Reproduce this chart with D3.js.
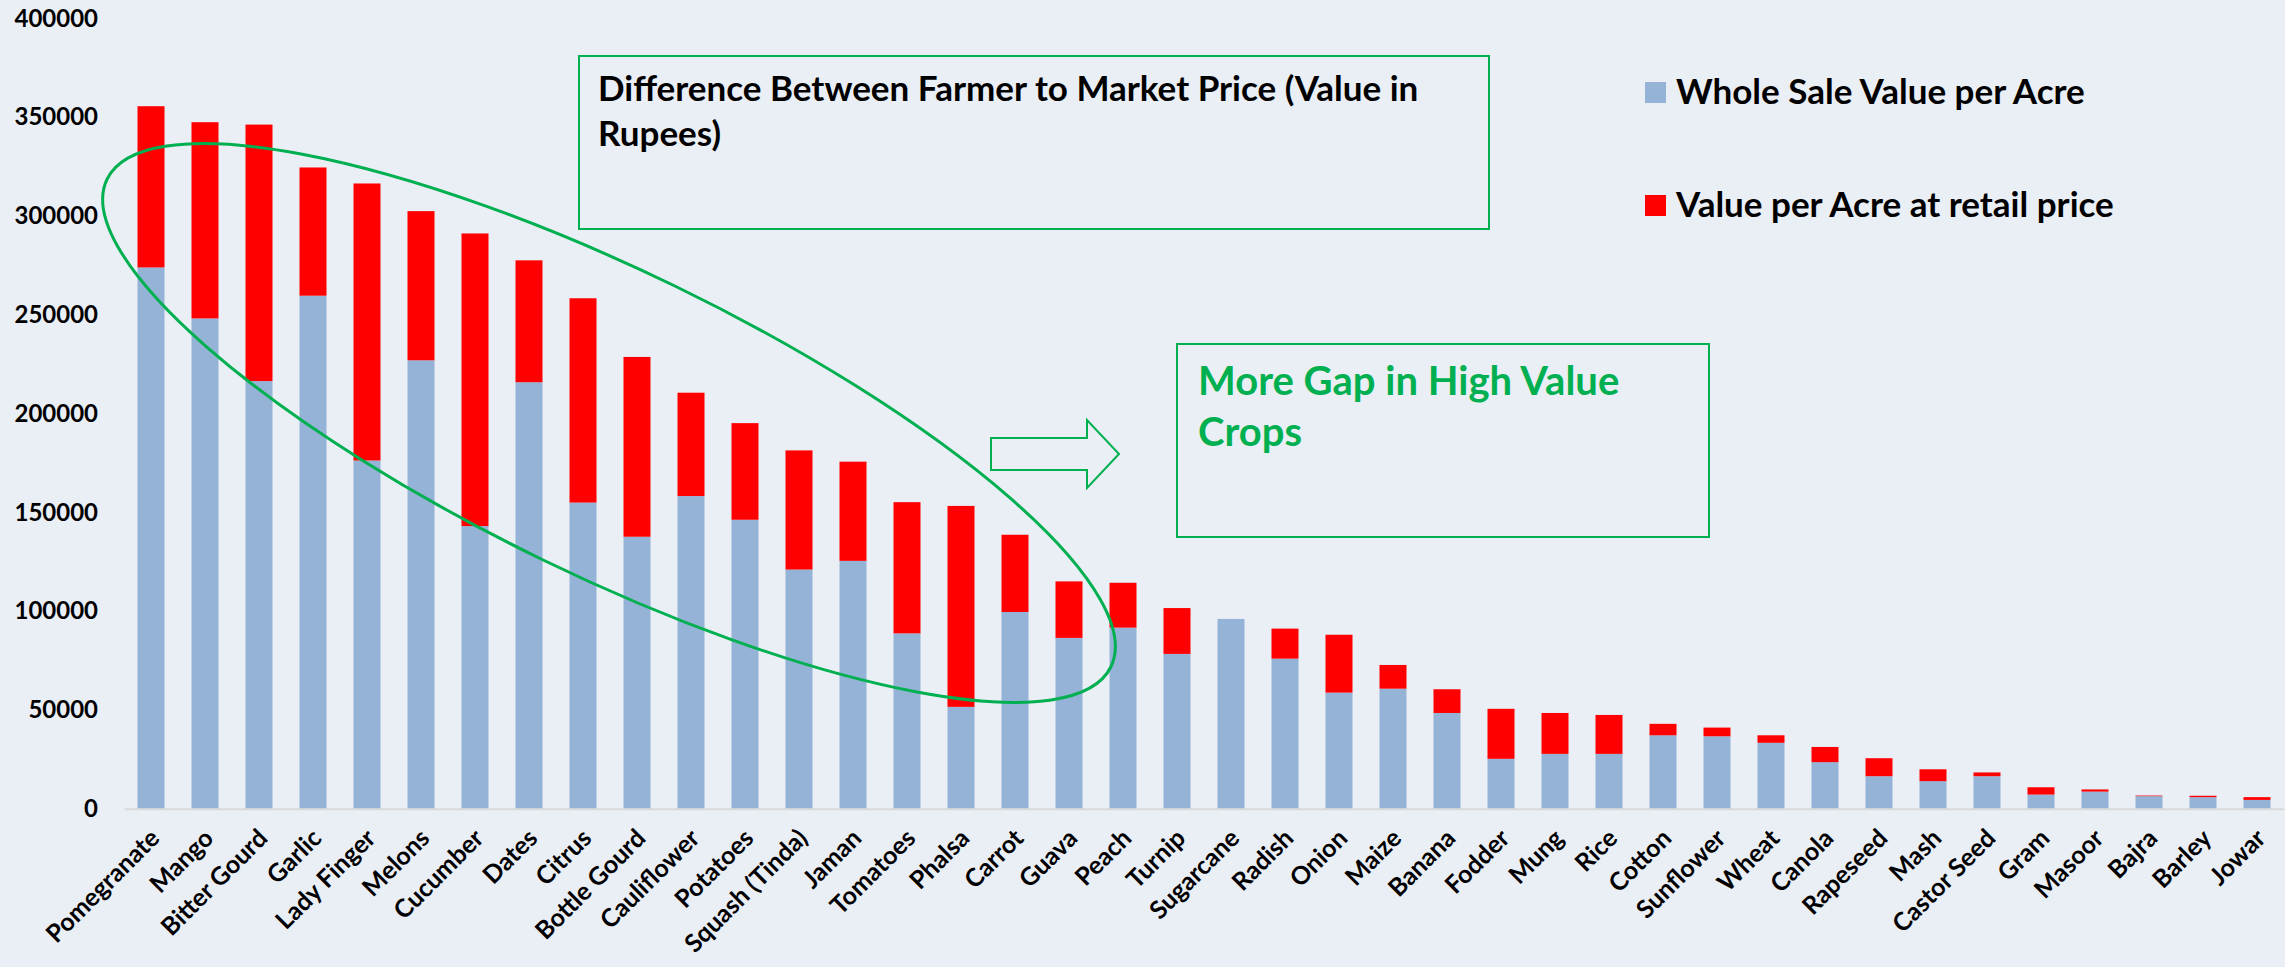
<!DOCTYPE html>
<html>
<head>
<meta charset="utf-8">
<script src="https://cdn.jsdelivr.net/npm/d3@7"></script>
<style>
  html, body { margin: 0; padding: 0; background: #EAEEF5; }
  svg { display: block; }
  text { font-family: Lato, "Open Sans", sans-serif; font-weight: 700; }
</style>
</head>
<body>
<svg id="chart" width="2285" height="967"></svg>
<script>
// Crops, ordered by retail value per acre
const categories = [
  "Pomegranate", "Mango", "Bitter Gourd", "Garlic", "Lady Finger", "Melons",
  "Cucumber", "Dates", "Citrus", "Bottle Gourd", "Cauliflower", "Potatoes",
  "Squash (Tinda)", "Jaman", "Tomatoes", "Phalsa", "Carrot", "Guava", "Peach",
  "Turnip", "Sugarcane", "Radish", "Onion", "Maize", "Banana", "Fodder", "Mung",
  "Rice", "Cotton", "Sunflower", "Wheat", "Canola", "Rapeseed", "Mash",
  "Castor Seed", "Gram", "Masoor", "Bajra", "Barley", "Jowar"
];

// Whole sale value per acre (Rs)
const wholesaleValues = [
  274000, 248200, 216500, 259700, 176300, 227000,
  143100, 215900, 155000, 137700, 158300, 146300,
  121100, 125500, 88800, 51600, 99600, 86500, 91700,
  78400, 96100, 76000, 58800, 60800, 48500, 25300, 27800,
  27800, 37200, 36700, 33400, 23600, 16500, 14000,
  16500, 7200, 8700, 6400, 5900, 4500
];

// Value per acre at retail price (Rs)
const retailValues = [
  355600, 347500, 346300, 324600, 316500, 302500,
  291200, 277600, 258400, 228700, 210600, 195200,
  181400, 175700, 155200, 153300, 138700, 115100, 114400,
  101600, 96100, 91200, 88100, 72800, 60500, 50600, 48500,
  47500, 43000, 41100, 37200, 31300, 25600, 20000,
  18400, 10900, 9800, 6700, 6600, 5900
];

const yTickValues = [0, 50000, 100000, 150000, 200000, 250000, 300000, 350000, 400000];

const seriesNames = ["Whole Sale Value per Acre", "Value per Acre at retail price"];
const seriesColors = ["#95B3D7", "#FF0000"];

const titleLines = ["Difference Between Farmer to Market Price (Value in", "Rupees)"];
const noteLines = ["More Gap in High Value", "Crops"];

const green = "#00B050";

const svg = d3.select("#chart");
svg.append("rect").attr("width", 2285).attr("height", 967).attr("fill", "#EAEEF5");

const x = d3.scaleBand()
  .domain(categories)
  .range([124, 2284])
  .paddingInner(0.5)
  .paddingOuter(0.25);

const y = d3.scaleLinear()
  .domain([0, 400000])
  .range([808.8, 18.5]);

// Whole sale part from zero, red part spans the gap up to the retail value
const bars = svg.append("g");
bars.selectAll("rect.wholesale")
  .data(categories)
  .join("rect")
  .attr("class", "wholesale")
  .attr("x", d => x(d))
  .attr("width", x.bandwidth())
  .attr("y", (d, i) => y(wholesaleValues[i]))
  .attr("height", (d, i) => y(0) - y(wholesaleValues[i]))
  .attr("fill", seriesColors[0]);

bars.selectAll("rect.retail")
  .data(categories)
  .join("rect")
  .attr("class", "retail")
  .attr("x", d => x(d))
  .attr("width", x.bandwidth())
  .attr("y", (d, i) => y(retailValues[i]))
  .attr("height", (d, i) => Math.max(0, y(wholesaleValues[i]) - y(retailValues[i])))
  .attr("fill", seriesColors[1]);

// Category axis
const xAxis = svg.append("g")
  .attr("transform", `translate(0,${y(0)})`)
  .call(d3.axisBottom(x).tickSize(0).tickPadding(0));
xAxis.select(".domain").attr("stroke", "#D9D9D9").attr("stroke-width", 2);
xAxis.selectAll(".tick text")
  .attr("fill", "#000")
  .attr("font-size", 25)
  .attr("font-family", "Lato, 'Open Sans', sans-serif")
  .attr("font-weight", 700)
  .attr("text-anchor", "end")
  .attr("dy", null)
  .attr("y", null)
  .attr("transform", "translate(10,31) rotate(-45)");

// Value axis
const yAxis = svg.append("g")
  .attr("transform", "translate(98,0)")
  .call(d3.axisLeft(y).tickValues(yTickValues).tickSize(0).tickPadding(0).tickFormat(d3.format("d")));
yAxis.select(".domain").remove();
yAxis.selectAll(".tick text")
  .attr("fill", "#000")
  .attr("font-size", 24)
  .attr("font-family", "Lato, 'Open Sans', sans-serif")
  .attr("font-weight", 700);

// Legend
const legend = svg.append("g");
seriesNames.forEach((name, i) => {
  const ly = 82 + i * 113;
  legend.append("rect")
    .attr("x", 1645).attr("y", ly).attr("width", 21).attr("height", 21)
    .attr("fill", seriesColors[i]);
  legend.append("text")
    .attr("x", 1676).attr("y", ly + 22)
    .attr("font-size", 35)
    .attr("fill", "#000")
    .text(name);
});

// Title box
svg.append("rect")
  .attr("x", 579).attr("y", 56).attr("width", 910).attr("height", 173)
  .attr("fill", "none").attr("stroke", green).attr("stroke-width", 2);
titleLines.forEach((t, i) => {
  svg.append("text")
    .attr("x", 598).attr("y", 101 + i * 45)
    .attr("font-size", 35)
    .attr("fill", "#000")
    .text(t);
});

// Note box
svg.append("rect")
  .attr("x", 1177).attr("y", 344).attr("width", 532).attr("height", 193)
  .attr("fill", "none").attr("stroke", green).attr("stroke-width", 2);
noteLines.forEach((t, i) => {
  svg.append("text")
    .attr("x", 1198).attr("y", 395 + i * 51)
    .attr("font-size", 40)
    .attr("fill", green)
    .text(t);
});

// Outline arrow pointing at the note
const arrowPts = [
  [991, 438], [1087, 438], [1087, 420], [1119, 454],
  [1087, 488], [1087, 470], [991, 470]
];
svg.append("path")
  .attr("d", d3.line()(arrowPts) + "Z")
  .attr("fill", "none").attr("stroke", green).attr("stroke-width", 2);

// Ellipse around the high value crops
svg.append("ellipse")
  .attr("cx", 0).attr("cy", 0).attr("rx", 558).attr("ry", 152)
  .attr("transform", "translate(609,423) rotate(25.9)")
  .attr("fill", "none").attr("stroke", green).attr("stroke-width", 3);
</script>
</body>
</html>
